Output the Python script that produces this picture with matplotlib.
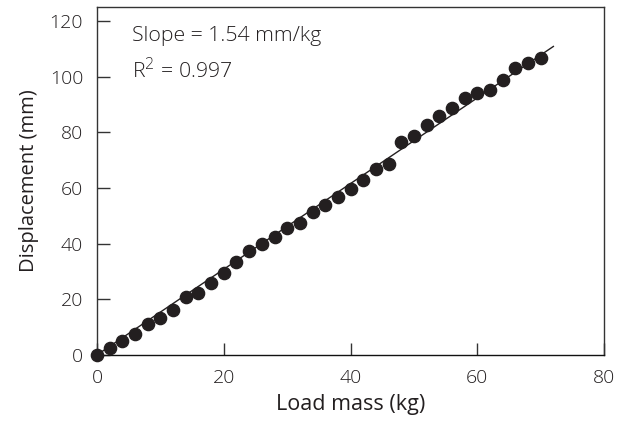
import matplotlib.pyplot as plt
import numpy as np

plt.rcParams['font.family'] = ['Open Sans', 'DejaVu Sans']
plt.rcParams['font.weight'] = 'light'

# load (kg) and measured displacement (mm)
load_kg = np.arange(0, 71, 2)
disp_mm = [0, 2.4, 5.1, 7.5, 11.0, 13.2, 16.2, 20.9, 22.4, 26.0,
           29.6, 33.3, 37.3, 39.7, 42.3, 45.5, 47.5, 51.2, 53.9, 56.8,
           59.5, 62.8, 67.0, 68.8, 76.6, 78.6, 82.8, 86.0, 88.6, 92.3,
           94.0, 95.2, 98.7, 103.2, 105.0, 106.9]
slope = 1.54
fit_x = [0, 72]

fig = plt.figure(figsize=(6.26, 4.21), dpi=100)
ax = fig.add_axes([0.155, 0.157, 0.81, 0.826])

ax.plot(fit_x, [slope * v for v in fit_x], color='#231f20', lw=1.0, zorder=2)
ax.plot(load_kg, disp_mm, 'o', color='#231f20', ms=8.8, clip_on=False, zorder=3)

ax.set_xlim(0, 80)
ax.set_ylim(0, 125)
ax.set_xticks([0, 20, 40, 60, 80])
ax.set_yticks([0, 20, 40, 60, 80, 100, 120])
ax.tick_params(direction='in', length=9, width=1, colors='#333333',
               labelsize=14, labelcolor='#231f20')
ax.tick_params(axis='x', pad=10)
ax.tick_params(axis='y', pad=10)
for s in ax.spines.values():
    s.set_color('#333333')
    s.set_linewidth(1)
ax.spines['bottom'].set_color('#111111')

ax.set_xlabel('Load mass (kg)', fontsize=15.5, color='#231f20', labelpad=5)
ax.set_ylabel('Displacement (mm)', fontsize=14.5, color='#231f20', labelpad=8)

ax.text(0.068, 0.945, 'Slope = 1.54 mm/kg', transform=ax.transAxes,
        fontsize=15.3, color='#231f20', va='top')
ax.text(0.068, 0.855, 'R$^2$ = 0.997', transform=ax.transAxes,
        fontsize=15.3, color='#231f20', va='top')

fig.savefig('out.png', dpi=100)
